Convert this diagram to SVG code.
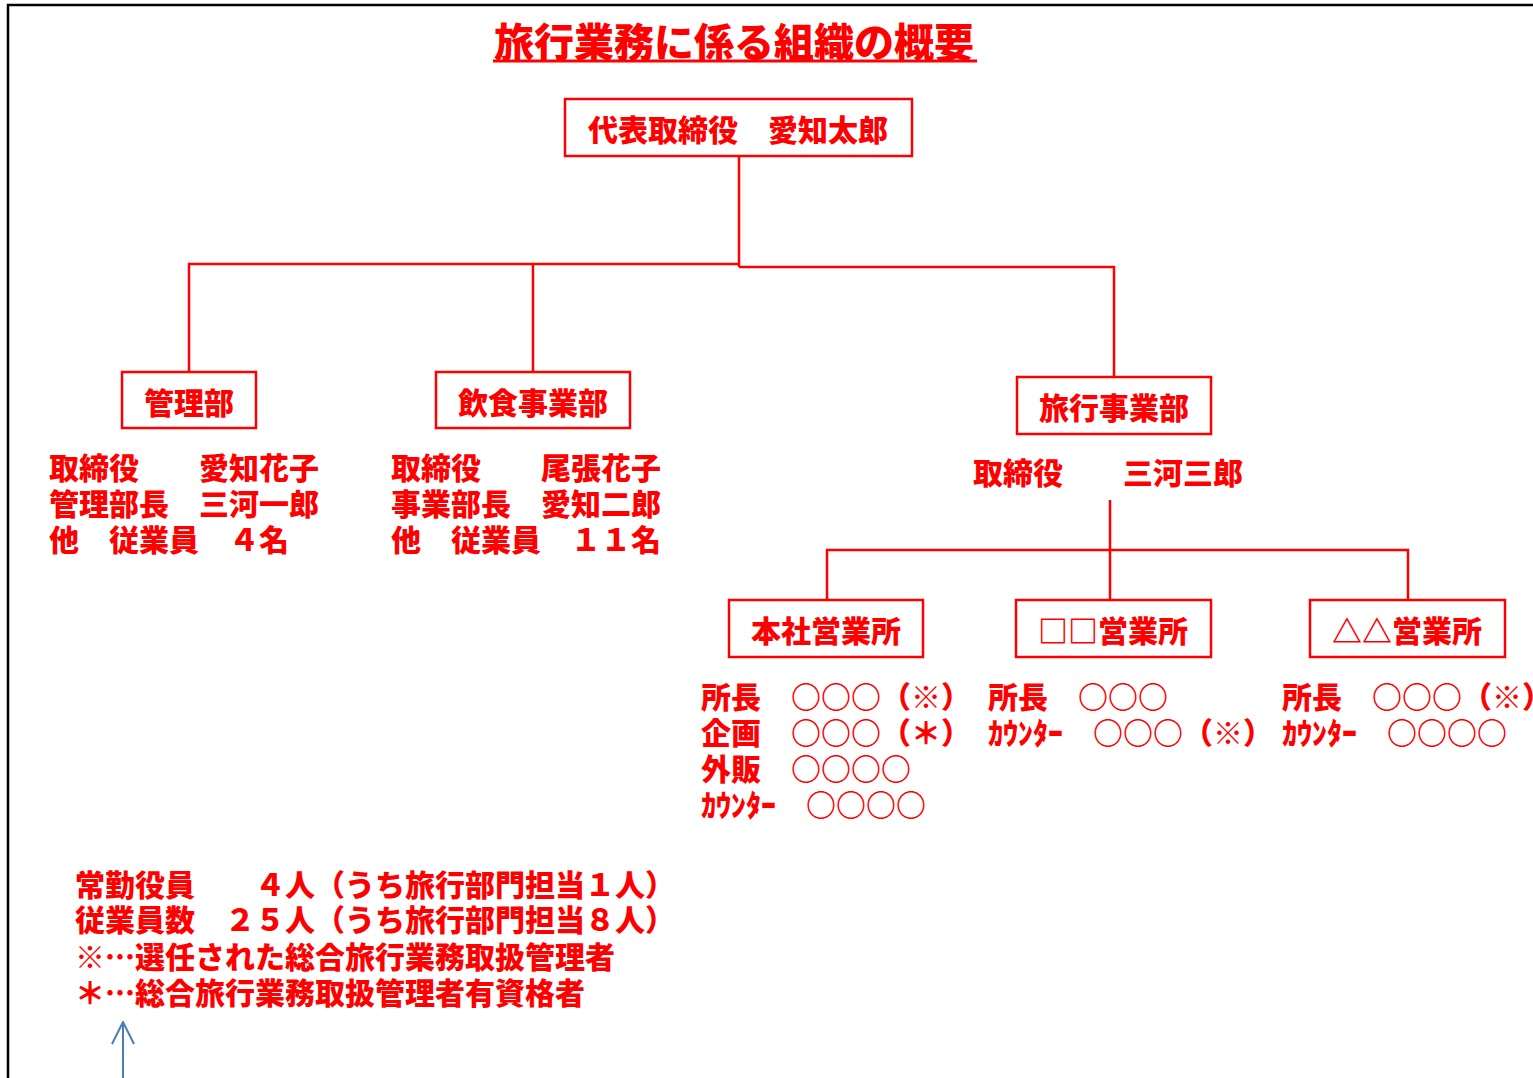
<svg xmlns="http://www.w3.org/2000/svg" width="1533" height="1078" viewBox="0 0 1533 1078">
<style>
  .t { font-family: "Noto Sans CJK JP", "Noto Sans CJK SC", sans-serif; font-weight: 900; fill: #FF0000; font-size: 30px; }
  .c { text-anchor: middle; }
  .box { fill: #FFFFFF; stroke: #FF0000; stroke-width: 2.5; }
  .ln { fill: none; stroke: #FF0000; stroke-width: 2.5; }
</style>
<defs>
  <marker id="openArrow" viewBox="0 0 24 24" refX="23" refY="12" markerWidth="24" markerHeight="24" markerUnits="userSpaceOnUse" orient="auto">
    <path d="M1,1 L23,12 L1,23" fill="none" stroke="#4A7EBB" stroke-width="2"/>
  </marker>
</defs>
<rect x="0" y="0" width="1533" height="1078" fill="#FFFFFF"/>
<path d="M8,1078 L8,5 L1533,5" fill="none" stroke="#000000" stroke-width="2.5"/>

<g id="title">
  <text class="t" x="494" y="57" style="font-size:40px">旅行業務に係る組織の概要</text>
  <line x1="493" y1="61" x2="977" y2="61" stroke="#FF0000" stroke-width="3"/>
</g>

<g id="connectors">
  <path class="ln" d="M739,156 L739,267"/>
  <path class="ln" d="M189,372 L189,264 L739,264"/>
  <path class="ln" d="M533,264 L533,372"/>
  <path class="ln" d="M739,267 L1114,267 L1114,377"/>
  <path class="ln" d="M1110,500 L1110,600"/>
  <path class="ln" d="M827,600 L827,550 L1408,550 L1408,600"/>
  <line x1="123" y1="1078" x2="123" y2="1022" stroke="#4A7EBB" stroke-width="2" marker-end="url(#openArrow)"/>
</g>

<g id="president">
  <rect class="box" x="565" y="99" width="347" height="57"/>
  <text class="t c" x="738" y="141">代表取締役　愛知太郎</text>
</g>

<g id="kanri">
  <rect class="box" x="122" y="372" width="134" height="56"/>
  <text class="t c" x="189" y="414">管理部</text>
  <text class="t" x="49" y="479">取締役　　愛知花子</text>
  <text class="t" x="49" y="515">管理部長　三河一郎</text>
  <text class="t" x="49" y="551">他　従業員　４名</text>
</g>

<g id="inshoku">
  <rect class="box" x="436" y="372" width="194" height="56"/>
  <text class="t c" x="533" y="414">飲食事業部</text>
  <text class="t" x="391" y="479">取締役　　尾張花子</text>
  <text class="t" x="391" y="515">事業部長　愛知二郎</text>
  <text class="t" x="391" y="551">他　従業員　１１名</text>
</g>

<g id="ryoko">
  <rect class="box" x="1017" y="377" width="194" height="57"/>
  <text class="t c" x="1114" y="419">旅行事業部</text>
  <text class="t" x="973" y="484">取締役　　三河三郎</text>
</g>

<g id="honsha">
  <rect class="box" x="729" y="600" width="194" height="57"/>
  <text class="t c" x="826" y="642">本社営業所</text>
  <text class="t" x="701" y="708">所長　○○○（※）</text>
  <text class="t" x="701" y="744">企画　○○○（＊）</text>
  <text class="t" x="701" y="780">外販　○○○○</text>
  <text class="t" x="701" y="816">ｶｳﾝﾀｰ　○○○○</text>
</g>

<g id="shikaku">
  <rect class="box" x="1016" y="600" width="195" height="57"/>
  <text class="t c" x="1113" y="642">□□営業所</text>
  <text class="t" x="988" y="708">所長　○○○</text>
  <text class="t" x="988" y="744">ｶｳﾝﾀｰ　○○○（※）</text>
</g>

<g id="sankaku">
  <rect class="box" x="1310" y="600" width="195" height="57"/>
  <text class="t c" x="1407" y="642">△△営業所</text>
  <text class="t" x="1282" y="708">所長　○○○（※）</text>
  <text class="t" x="1282" y="744">ｶｳﾝﾀｰ　○○○○</text>
</g>

<g id="notes">
  <text class="t" x="75" y="896">常勤役員　　４人（うち旅行部門担当１人）</text>
  <text class="t" x="75" y="931">従業員数　２５人（うち旅行部門担当８人）</text>
  <text class="t" x="75" y="968">※…選任された総合旅行業務取扱管理者</text>
  <text class="t" x="75" y="1004">＊…総合旅行業務取扱管理者有資格者</text>
</g>
</svg>
